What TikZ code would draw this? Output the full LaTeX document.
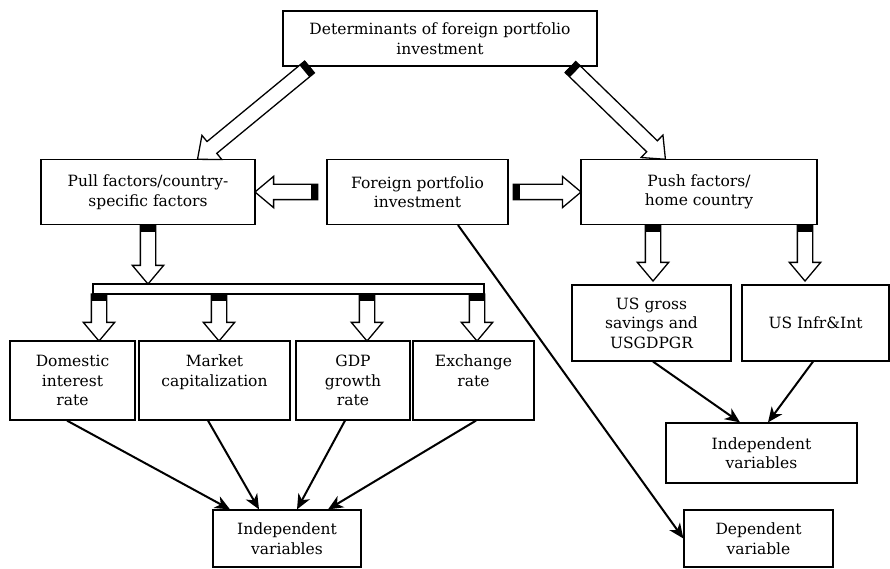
\documentclass[tikz,border=0pt]{standalone}
\usepackage{fontspec}
\setmainfont{DejaVu Serif}
\usetikzlibrary{arrows.meta, positioning, calc, shapes.arrows}

\tikzset{
  box/.style={draw, line width=1.2pt, fill=white, align=center, inner sep=0pt,
    font=\fontsize{15.5}{19.5}\selectfont},
  fatarrow/.style={single arrow, draw, line width=1.3pt, fill=white, inner xsep=0pt,
    inner ysep=7pt, minimum width=0pt, single arrow head extend=8pt,
    single arrow tip angle=80, single arrow head indent=0pt},
  fattail/.style={fill=black, inner sep=0pt, minimum width=7pt, minimum height=15pt},
  link/.style={line width=2pt, -{Stealth[length=15pt, width=13pt, inset=4.5pt]}},
}

\newcommand{\fatarrow}[2]{%
  \path #1 coordinate (fa-s) #2 coordinate (fa-e);
  \path let \p1=($(fa-e)-(fa-s)$), \n1={atan2(\y1,\x1)}, \n2={veclen(\x1,\y1)} in
    node[fatarrow, minimum height=\n2, rotate=\n1, anchor=tail] at (fa-s) {}
    node[fattail, rotate=\n1, anchor=west] at (fa-s) {};
}

\begin{document}
\begin{tikzpicture}[x=1pt, y=1pt]
  \useasboundingbox (0,0) rectangle (890,568);

  \node[box, minimum width=314, minimum height=55] (top) at (440,529.5) {Determinants of foreign portfolio\\investment};
  \node[box, minimum width=214, minimum height=65] (pull) at (148,376) {Pull factors/country-\\specific factors};
  \node[box, minimum width=181, minimum height=65] (fpi) at (417.5,376) {Foreign portfolio\\investment};
  \node[box, minimum width=236, minimum height=65] (push) at (699,376) {Push factors/\\home country};
  \node[box, minimum width=391, minimum height=10] (bar) at (288.5,279) {};

  \node[box, minimum width=125, minimum height=79] (dom) at (72.5,187.5) {Domestic\\interest\\rate};
  \node[box, minimum width=151, minimum height=79] (mkt) at (214.5,187.5) {Market\\capitalization\\\mbox{}};
  \node[box, minimum width=114, minimum height=79] (gdp) at (353,187.5) {GDP\\growth\\rate};
  \node[box, minimum width=121, minimum height=79] (exch) at (473.5,187.5) {Exchange\\rate\\\mbox{}};
  \node[box, minimum width=148, minimum height=57] (indl) at (287,29.5) {Independent\\variables};

  \node[box, minimum width=159, minimum height=76] (usg) at (651.5,245) {US gross\\savings and\\USGDPGR};
  \node[box, minimum width=147, minimum height=76] (usi) at (815.5,245) {US Infr\&Int};
  \node[box, minimum width=191, minimum height=60] (indr) at (761.5,115) {Independent\\variables};
  \node[box, minimum width=149, minimum height=57] (dep) at (758.5,29.5) {Dependent\\variable};

  \fatarrow{([xshift=-130pt]top.south)}{([xshift=50pt]pull.north)}
  \fatarrow{([xshift=130pt]top.south)}{([xshift=-34pt]push.north)}
  \fatarrow{([xshift=-8pt]fpi.west)}{(pull.east)}
  \fatarrow{([xshift=4pt]fpi.east)}{(push.west)}
  \fatarrow{(pull.south)}{(pull.south |- bar.north)}
  \foreach \b/\dx in {dom/26.5, mkt/4.5, gdp/14, exch/3.5} {
    \fatarrow{([xshift=\dx pt, yshift=47pt]\b.north)}{([xshift=\dx pt]\b.north)}
  }
  \fatarrow{([xshift=-46pt]push.south)}{([xshift=1.5pt, yshift=4pt]usg.north)}
  \fatarrow{([xshift=106pt]push.south)}{([xshift=-10.5pt, yshift=4pt]usi.north)}

  \draw[link] ([xshift=-5.5pt]dom.south) -- ([xshift=-57pt]indl.north);
  \draw[link] ([xshift=-6.5pt]mkt.south) -- ([xshift=-28pt]indl.north);
  \draw[link] ([xshift=-8pt]gdp.south) -- ([xshift=10pt]indl.north);
  \draw[link] ([xshift=2.5pt]exch.south) -- ([xshift=41pt]indl.north);
  \draw[link] ([xshift=1.5pt]usg.south) -- ([xshift=-21.5pt]indr.north);
  \draw[link] ([xshift=-2.5pt]usi.south) -- ([xshift=6.5pt]indr.north);
  \draw[link] ([xshift=40.5pt]fpi.south) -- (dep.west);
\end{tikzpicture}
\end{document}
